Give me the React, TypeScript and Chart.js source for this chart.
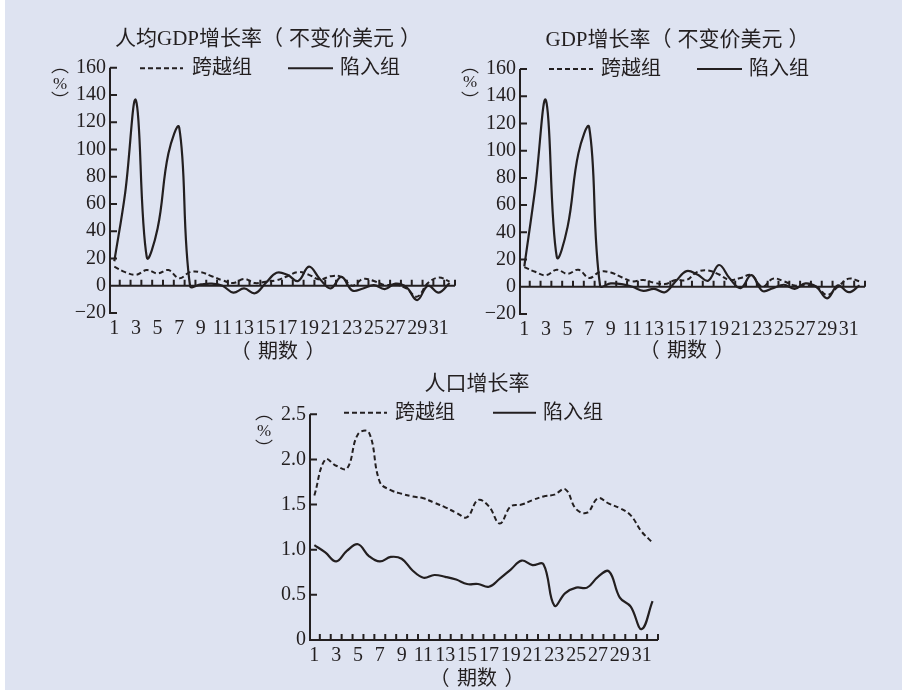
import { useEffect, useRef } from 'react';
import { Chart, registerables } from 'chart.js';

Chart.register(...registerables);

// Periods on the horizontal axis
const periods = [1, 2, 3, 4, 5, 6, 7, 8, 9, 10, 11, 12, 13, 14, 15, 16, 17, 18, 19, 20, 21, 22, 23, 24, 25, 26, 27, 28, 29, 30, 31, 32];
const xTickValues = [1, 3, 5, 7, 9, 11, 13, 15, 17, 19, 21, 23, 25, 27, 29, 31];

const seriesNames = ['跨越组', '陷入组'];

// 人均GDP增长率（不变价美元）, %
const pcCross = [14, 10, 8, 11.5, 9, 11.5, 5.5, 10, 10, 7, 4, 2, 5, 2, 3, 4, 7, 10, 8, 4.5, 7, 6.5, 0, 5, 3.5, 0.5, 1, -2, -8, 2, 6, 3];
const pcTrap = [18, 68, 136, 21, 42, 97, 116, 0, 1, 1.5, 0, -5, -2, -5.5, 2, 9.5, 8, 3.5, 14, 5, -2, 6.5, -3.5, -2, 0.5, -2.5, 1.5, -1, -10.5, 0, -5, 2];

// GDP增长率（不变价美元）, %
const gdpCross = [14.5, 11, 8.5, 12.5, 9.5, 12.5, 6.5, 11, 10.5, 7, 4, 5, 3, 2, 5, 5, 11, 12, 9, 5, 6.5, 8.5, 0, 6, 4, 1, 1, 0, -6, 0, 6, 4];
const gdpTrap = [15, 72, 137, 22, 44, 98, 117, 1, 2.5, 2, 0, -3, -1.5, -4, 4, 11.5, 9, 4.5, 16, 6, -1, 8.5, -3, -1, 1.5, -1.5, 2.5, 0, -8.5, 1, -4, 1];

// 人口增长率, %
const popCross = [1.6, 2.0, 1.93, 1.9, 2.28, 2.3, 1.75, 1.66, 1.62, 1.59, 1.57, 1.52, 1.47, 1.41, 1.36, 1.55, 1.48, 1.29, 1.48, 1.5, 1.55, 1.59, 1.61, 1.67, 1.45, 1.41, 1.57, 1.51, 1.46, 1.38, 1.2, 1.08];
const popTrap = [1.05, 0.97, 0.87, 0.99, 1.06, 0.93, 0.87, 0.92, 0.9, 0.77, 0.69, 0.72, 0.7, 0.67, 0.62, 0.62, 0.59, 0.68, 0.78, 0.88, 0.83, 0.84, 0.38, 0.52, 0.58, 0.58, 0.7, 0.76, 0.47, 0.37, 0.12, 0.43];

const growthTicks = [-20, 0, 20, 40, 60, 80, 100, 120, 140, 160];
const growthTickLabels = ['−20', '0', '20', '40', '60', '80', '100', '120', '140', '160'];
const popTicks = [0, 0.5, 1, 1.5, 2, 2.5];
const popTickLabels = ['0', '0.5', '1.0', '1.5', '2.0', '2.5'];

const INK = '#231f20';
const BG = '#dee3f1';
const FONT = '"Liberation Serif", "Noto Sans CJK SC", serif';

type Area = { left: number; right: number; top: number; bottom: number };

type PanelSpec = {
  box: { left: number; top: number; width: number; height: number };
  area: Area;
  title: [string, string];
  titleAt: [number, number];
  legendY: number;
  legendAt: [number, number, number, number, number, number];
  pctX: number;
  pctY: [number, number, number];
  xTitleAt: [number, number];
  yMin: number;
  yMax: number;
  yTicks: number[];
  yLabels: string[];
  cross: number[];
  trap: number[];
};

// Draws "head（inner）" centred at cx, with a little air inside the brackets
function bracketText(ctx: CanvasRenderingContext2D, head: string, inner: string, cx: number, cy: number, gap: number) {
  const parts = [head, '（', inner, '）'];
  const gaps = [0, gap, gap, 0];
  const widths = parts.map((p) => ctx.measureText(p).width);
  const total = widths.reduce((s, w) => s + w, 0) + gaps.reduce((s, g) => s + g, 0);
  let x = cx - total / 2;
  ctx.textAlign = 'left';
  parts.forEach((p, i) => {
    if (p) ctx.fillText(p, x, cy);
    x += widths[i] + gaps[i];
  });
}

// Axes drawn inside the plot: y ticks point right, x ticks point up from the zero line
const framePlugin = {
  id: 'frame',
  afterDraw(chart: any, _args: any, o: any) {
    const { ctx, chartArea: a, scales } = chart;
    const x = scales.x;
    const y = scales.y;
    ctx.save();
    ctx.strokeStyle = INK;
    ctx.fillStyle = INK;
    ctx.lineWidth = 2;
    ctx.lineCap = 'butt';

    ctx.beginPath();
    ctx.moveTo(a.left, a.top);
    ctx.lineTo(a.left, a.bottom + 1);
    for (const v of o.yTicks) {
      const py = y.getPixelForValue(v);
      ctx.moveTo(a.left, py);
      ctx.lineTo(a.left + 7, py);
    }
    const zy = y.getPixelForValue(0);
    ctx.moveTo(a.left, zy);
    ctx.lineTo(a.right, zy);
    for (const p of periods) {
      const px = x.getPixelForValue(p + 0.5);
      ctx.moveTo(px, zy);
      ctx.lineTo(px, zy - 6);
    }
    ctx.stroke();

    ctx.textBaseline = 'middle';

    // title
    ctx.font = `21px ${FONT}`;
    if (o.title[1]) {
      bracketText(ctx, o.title[0], o.title[1], a.left + o.titleAt[0], a.top + o.titleAt[1], 6);
    } else {
      ctx.textAlign = 'center';
      ctx.fillText(o.title[0], a.left + o.titleAt[0], a.top + o.titleAt[1]);
    }

    // legend
    ctx.font = `20px ${FONT}`;
    const ly = a.top + o.legendY;
    const L = o.legendAt;
    ctx.beginPath();
    ctx.setLineDash([5, 3]);
    ctx.moveTo(a.left + L[0], ly);
    ctx.lineTo(a.left + L[1], ly);
    ctx.stroke();
    ctx.setLineDash([]);
    ctx.beginPath();
    ctx.moveTo(a.left + L[3], ly);
    ctx.lineTo(a.left + L[4], ly);
    ctx.stroke();
    ctx.textAlign = 'left';
    ctx.fillText(seriesNames[0], a.left + L[2], ly + 1);
    ctx.fillText(seriesNames[1], a.left + L[5], ly + 1);

    // vertical unit label （%）
    ctx.textAlign = 'center';
    const px = a.left + o.pctX;
    ctx.font = `18px "Noto Sans CJK SC"`;
    ctx.fillText('︵', px, a.top + o.pctY[0]);
    ctx.fillText('︶', px, a.top + o.pctY[2]);
    ctx.font = `17px "Liberation Serif", serif`;
    ctx.fillText('%', px, a.top + o.pctY[1]);

    // x title
    ctx.font = `20px ${FONT}`;
    bracketText(ctx, '', '期数', a.left + o.xTitleAt[0], a.bottom + o.xTitleAt[1], 7.5);
    ctx.restore();
  },
};

function Panel({ spec }: { spec: PanelSpec }) {
  const ref = useRef<HTMLCanvasElement | null>(null);

  useEffect(() => {
    const canvas = ref.current;
    if (!canvas) return;
    const { box, area } = spec;
    const tickFont = { family: FONT, size: 20 };
    const chart = new Chart(canvas, {
      type: 'line',
      data: {
        datasets: [
          {
            label: seriesNames[0],
            data: periods.map((p, i) => ({ x: p, y: spec.cross[i] })),
            borderColor: INK,
            borderWidth: 2,
            borderDash: [5, 3],
            pointRadius: 0,
            tension: 0.4,
            fill: false,
          },
          {
            label: seriesNames[1],
            data: periods.map((p, i) => ({ x: p, y: spec.trap[i] })),
            borderColor: INK,
            borderWidth: 2.2,
            pointRadius: 0,
            tension: 0.4,
            fill: false,
          },
        ],
      },
      options: {
        animation: false,
        responsive: false,
        devicePixelRatio: 1,
        events: [],
        layout: {
          padding: { left: 0, top: area.top, right: box.width - area.right, bottom: 0 },
        },
        plugins: {
          legend: { display: false },
          tooltip: { enabled: false },
          title: { display: false },
          frame: {
            yTicks: spec.yTicks,
            title: spec.title,
            titleAt: spec.titleAt,
            legendY: spec.legendY,
            legendAt: spec.legendAt,
            pctX: spec.pctX,
            pctY: spec.pctY,
            xTitleAt: spec.xTitleAt,
          },
        } as any,
        scales: {
          x: {
            type: 'linear',
            min: 0.6,
            max: 32.5,
            grid: { display: false, drawTicks: false },
            border: { display: false },
            afterBuildTicks: (s: any) => {
              s.ticks = xTickValues.map((v) => ({ value: v }));
            },
            afterFit: (s: any) => {
              s.height = box.height - area.bottom;
            },
            ticks: {
              autoSkip: false,
              maxRotation: 0,
              padding: 4,
              color: INK,
              font: tickFont,
              callback: (v: any) => String(v),
            },
          },
          y: {
            type: 'linear',
            min: spec.yMin,
            max: spec.yMax,
            grid: { display: false, drawTicks: false },
            border: { display: false },
            afterBuildTicks: (s: any) => {
              s.ticks = spec.yTicks.map((v) => ({ value: v }));
            },
            afterFit: (s: any) => {
              s.width = area.left;
            },
            ticks: {
              padding: 4,
              color: INK,
              font: tickFont,
              callback: (v: any) => {
                const i = spec.yTicks.indexOf(Number(v));
                return i >= 0 ? spec.yLabels[i] : '';
              },
            },
          },
        },
      },
      plugins: [framePlugin],
    } as any);
    return () => chart.destroy();
  }, [spec]);

  const { box } = spec;
  return (
    <canvas
      ref={ref}
      width={box.width}
      height={box.height}
      style={{ position: 'absolute', left: box.left, top: box.top, width: box.width, height: box.height }}
    />
  );
}

const panels: PanelSpec[] = [
  {
    box: { left: 0, top: 0, width: 470, height: 365 },
    area: { left: 110, right: 455, top: 67.7, bottom: 313 },
    title: ['人均GDP增长率', '不变价美元'],
    titleAt: [158, -28],
    legendY: 0.5,
    legendAt: [30, 73, 82, 178, 223, 230],
    pctX: -50,
    pctY: [-3, 17, 32],
    xTitleAt: [168, 40],
    yMin: -20,
    yMax: 160,
    yTicks: growthTicks,
    yLabels: growthTickLabels,
    cross: pcCross,
    trap: pcTrap,
  },
  {
    box: { left: 440, top: 0, width: 462, height: 365 },
    area: { left: 80, right: 425, top: 69, bottom: 314 },
    title: ['GDP增长率', '不变价美元'],
    titleAt: [157.5, -28.5],
    legendY: 0,
    legendAt: [29, 73, 81, 177, 222, 229],
    pctX: -50,
    pctY: [-4, 14, 31],
    xTitleAt: [167, 38],
    yMin: -20,
    yMax: 160,
    yTicks: growthTicks,
    yLabels: growthTickLabels,
    cross: gdpCross,
    trap: gdpTrap,
  },
  {
    box: { left: 220, top: 365, width: 460, height: 326 },
    area: { left: 90, right: 438, top: 49.3, bottom: 275 },
    title: ['人口增长率', ''],
    titleAt: [167, -30],
    legendY: -1.6,
    legendAt: [34, 77, 85, 183, 226, 233],
    pctX: -46,
    pctY: [-2.6, 17.4, 33.7],
    xTitleAt: [167, 40],
    yMin: 0,
    yMax: 2.5,
    yTicks: popTicks,
    yLabels: popTickLabels,
    cross: popCross,
    trap: popTrap,
  },
];

export default function App() {
  return (
    <div style={{ position: 'absolute', left: 0, top: 0, width: 902, height: 691, background: '#ffffff', overflow: 'hidden' }}>
      <div style={{ position: 'absolute', left: 5, top: 0, width: 897, height: 690, background: BG }} />
      {panels.map((p, i) => (
        <Panel key={i} spec={p} />
      ))}
    </div>
  );
}
